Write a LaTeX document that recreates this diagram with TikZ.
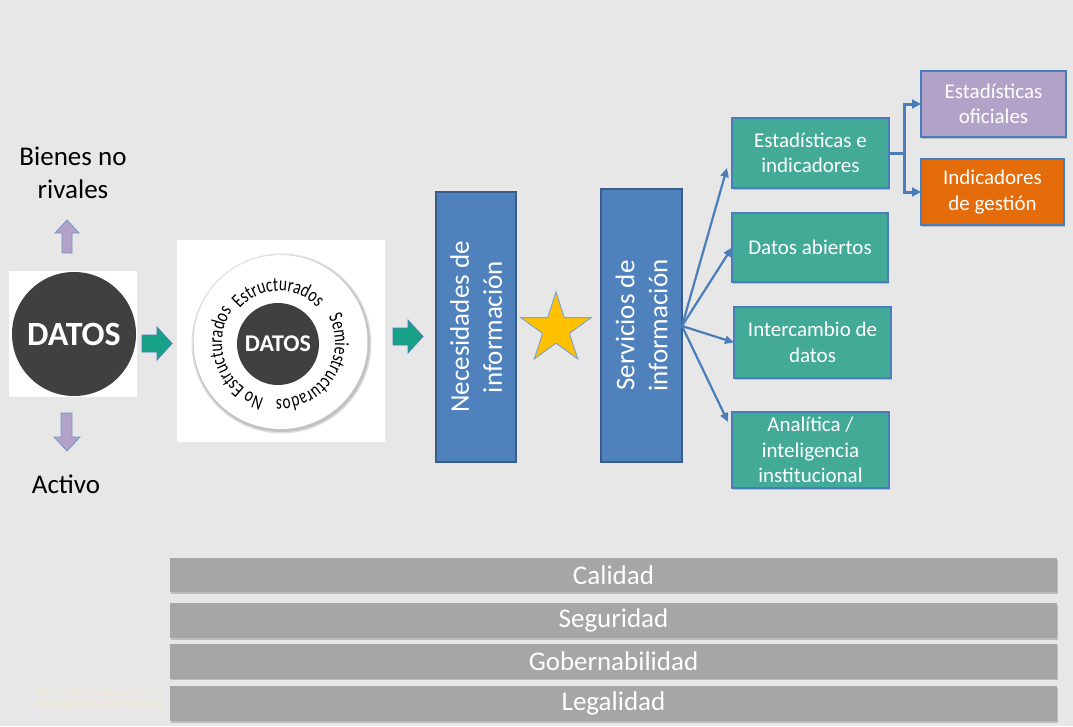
\documentclass[tikz,border=0pt]{standalone}
\usepackage{fontspec}
\setmainfont{Carlito}
\usetikzlibrary{shapes.geometric,arrows.meta,decorations.text,shadows}
\definecolor{bgc}{RGB}{231,231,231}
\definecolor{tealbox}{RGB}{67,170,152}
\definecolor{tealarrow}{RGB}{23,162,135}
\definecolor{bluebox}{RGB}{79,129,189}
\definecolor{blueedge}{RGB}{56,93,138}
\definecolor{lineblue}{RGB}{74,126,187}
\definecolor{lav}{RGB}{179,162,199}
\definecolor{orng}{RGB}{228,108,10}
\definecolor{bargray}{RGB}{166,166,166}
\definecolor{darkc}{RGB}{64,64,64}
\definecolor{starc}{RGB}{255,192,0}
\definecolor{faint}{RGB}{242,234,212}
\begin{document}
\begin{tikzpicture}[x=1pt,y=-1pt,
 every node/.style={inner sep=0pt, outer sep=0pt},
 shd/.style={drop shadow={shadow xshift=1pt,shadow yshift=-1.5pt,opacity=0.18,fill=black}},
 lbl/.style={font=\fontsize{27}{33}\selectfont, align=center, text=black},
 tbox/.style={rectangle, draw=lineblue, line width=1.2pt, fill=tealbox, text=white, align=center, font=\fontsize{21}{25.5}\selectfont, shd},
 vbox/.style={rectangle, draw=blueedge, line width=2pt, fill=bluebox, text=white, align=center, rotate=90, font=\fontsize{27}{33}\selectfont},
 bar/.style={rectangle, fill=bargray, text=white, minimum width=887pt, font=\fontsize{27}{30}\selectfont, shd},
 fan/.style={draw=lineblue, line width=2.2pt, -{Triangle[length=9pt,width=8pt]}},
 elbow/.style={draw=lineblue, line width=3pt, -{Triangle[length=9pt,width=9pt]}},
 purp/.style={fill=lav, draw=lineblue!80, line width=0.8pt},
 tealarr/.style={fill=tealarrow, draw=lineblue, line width=0.8pt},
 whitesq/.style={rectangle, fill=white},
 ringtext/.style={decorate, decoration={text effects along path, text={#1}, text effects/.cd, text along path, characters={font=\fontsize{15.5}{18}\selectfont, yscale=1.3, text=black}}}
]
\useasboundingbox (0,0) rectangle (1073,726);
\fill[bgc] (0,0) rectangle (1073,726);

% faint footer text (partly hidden)
\begin{scope}
\clip (0,680) rectangle (171,726);
\node[anchor=west, text=faint, font=\itshape\fontsize{13}{13}\selectfont] (dir1) at (35,692) {Dirección Nacional de Pl};
\node[anchor=west, text=faint, font=\itshape\fontsize{13}{13}\selectfont] (dir2) at (35,705) {Oficina Nacional de Esta};
\end{scope}

% left part
\node[lbl] (bienes) at (73,173) {Bienes no\\rivales};
\node[lbl] (activo) at (66,484) {Activo};
\filldraw[purp] (62,253) -- (62,233) -- (55,233) -- (67,220) -- (79,233) -- (72,233) -- (72,253) -- cycle;
\filldraw[purp] (61,413) -- (72,413) -- (72,437) -- (80,437) -- (67,451) -- (54,437) -- (61,437) -- cycle;
\node[whitesq, minimum width=128pt, minimum height=126pt] (sq1) at (73,334) {};
\node[circle, fill=darkc, minimum size=124pt, text=white, font=\bfseries\fontsize{34}{34}\selectfont] (datos) at (74,334) {DATOS};

\filldraw[tealarr] (142,335) -- (157,335) -- (157,327) -- (172,343.5) -- (157,360) -- (157,352) -- (142,352) -- cycle;

% ring diagram
\node[whitesq, minimum width=208pt, minimum height=202pt] (sq2) at (281,341) {};
\fill[black!12] (281.5,343.5) circle[radius=90pt];
\fill[black!24] (281.5,343.5) circle[radius=88.5pt];
\fill[white] (280.5,342) circle[radius=87pt];
\node[circle, fill=darkc, minimum size=82pt, text=white, font=\bfseries\fontsize{24}{24}\selectfont] (datos2) at (278,344) {DATOS};
\begin{scope}[shift={(279,343)}]
\path[ringtext=Estructurados] (139:52pt) arc[start angle=139, end angle=-20, radius=52pt];
\path[ringtext=Semiestructurados] (28:56pt) arc[start angle=28, end angle=-140, radius=56pt];
\path[ringtext=No Estructurados] (255:57pt) arc[start angle=255, end angle=90, radius=57pt];
\end{scope}

\filldraw[tealarr] (393,328) -- (408,328) -- (408,320) -- (423,336.5) -- (408,353) -- (408,345) -- (393,345) -- cycle;

% vertical boxes and star
\node[vbox, minimum width=270pt, minimum height=80pt] (nec) at (476,327) {Necesidades de\\información};
\node[star, star points=5, star point ratio=2.618, minimum size=74pt, fill=starc, draw=lineblue!70, line width=1pt] (star) at (556,329) {};
\node[vbox, minimum width=273pt, minimum height=81pt] (serv) at (641.5,325.5) {Servicios de\\información};

% right boxes
\node[tbox, minimum width=157pt, minimum height=70pt] (b1) at (810.5,153) {Estadísticas e\\indicadores};
\node[tbox, minimum width=156pt, minimum height=69pt] (b2) at (810,247.5) {Datos abiertos};
\node[tbox, minimum width=157pt, minimum height=71pt] (b3) at (812.5,342.5) {Intercambio de\\datos};
\node[tbox, minimum width=157pt, minimum height=76pt] (b4) at (810.5,450) {Analítica /\\inteligencia\\institucional};
\node[tbox, fill=lav, minimum width=145pt, minimum height=66pt] (b5) at (993.5,104) {Estadísticas\\oficiales};
\node[tbox, fill=orng, minimum width=143pt, minimum height=66pt] (b6) at (992.5,192) {Indicadores\\de gestión};

\coordinate (fan) at (682,326);
\draw[fan] (fan) -- ([xshift=-5pt,yshift=20pt]b1.south west);
\draw[fan] (fan) -- (b2.west);
\draw[fan] (fan) -- (b3.west);
\draw[fan] (fan) -- ([xshift=-4pt,yshift=-10pt]b4.north west);

\coordinate (split) at ([xshift=15pt]b1.east);
\draw[draw=lineblue, line width=3pt] (b1.east) -- (split);
\draw[elbow] (split) |- (b5.west);
\draw[elbow] (split) |- (b6.west);

% bottom bars
\node[bar, minimum height=34pt] (calidad) at (613.5,575) {Calidad};
\node[bar, minimum height=35pt] (seguridad) at (613.5,620.5) {Seguridad};
\node[bar, minimum height=35pt] (gober) at (613.5,661) {Gobernabilidad};
\node[bar, minimum height=35pt] (legal) at (613.5,703.5) {Legalidad};
\end{tikzpicture}
\end{document}
